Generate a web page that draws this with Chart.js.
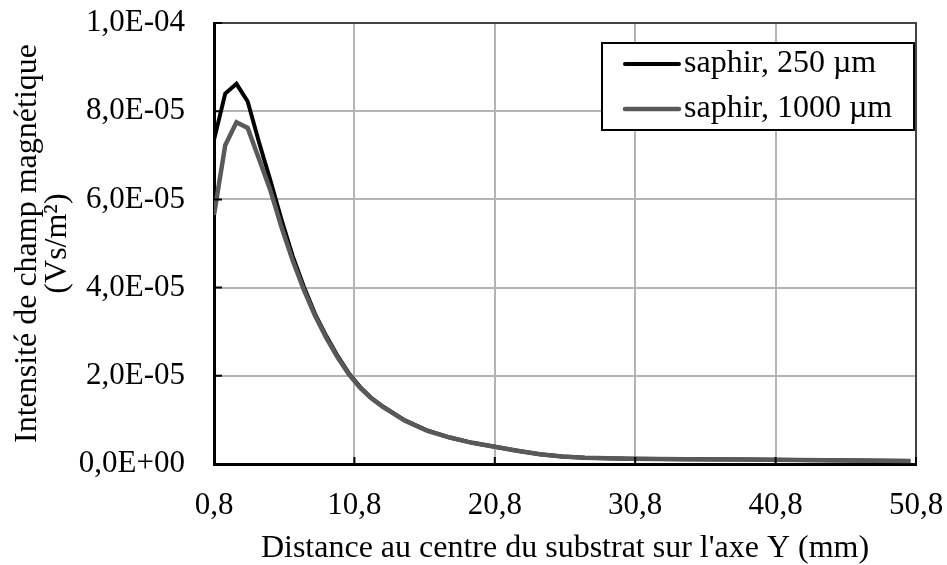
<!DOCTYPE html>
<html>
<head>
<meta charset="utf-8">
<script src="https://cdn.jsdelivr.net/npm/chart.js@4.4.1/dist/chart.umd.min.js"></script>
<style>
  html, body { margin: 0; padding: 0; background: #fff; }
  #wrap { width: 947px; height: 565px; }
</style>
</head>
<body>
<div id="wrap"><canvas id="fieldChart" width="947" height="565"></canvas></div>
<script>
// distance (mm)
const distances = [0.8, 1.6, 2.4, 3.2, 4.0, 4.8, 5.6, 6.4, 7.2, 8.0, 8.8, 9.6, 10.4, 11.2, 12.0, 12.8,
    14.4, 16.0, 17.6, 19.2, 20.8, 22.4, 24.0, 25.6, 27.2, 30.4, 34.4, 38.4, 42.4, 46.4, 50.4];
// field intensity, in units of 1E-05 Vs/m2
const saphir250 = [7.35, 8.40, 8.62, 8.22, 7.30, 6.45, 5.55, 4.72, 4.02, 3.40, 2.90, 2.45, 2.06, 1.75, 1.50, 1.31,
    0.99, 0.76, 0.60, 0.48, 0.39, 0.30, 0.22, 0.17, 0.14, 0.12, 0.11, 0.10, 0.09, 0.08, 0.07];
const saphir1000 = [5.65, 7.23, 7.75, 7.62, 6.92, 6.22, 5.38, 4.62, 3.95, 3.36, 2.86, 2.42, 2.04, 1.73, 1.49, 1.30,
    0.98, 0.75, 0.60, 0.48, 0.39, 0.30, 0.22, 0.17, 0.14, 0.12, 0.11, 0.10, 0.09, 0.08, 0.07];
const seriesLabels = ['saphir, 250 \u00b5m', 'saphir, 1000 \u00b5m'];
const xTicks = [0.8, 10.8, 20.8, 30.8, 40.8, 50.8];
const xTickLabels = ['0,8', '10,8', '20,8', '30,8', '40,8', '50,8'];
const yTickLabels = ['0,0E+00', '2,0E-05', '4,0E-05', '6,0E-05', '8,0E-05', '1,0E-04'];

const FONT = "'Liberation Serif', 'Times New Roman', serif";

function points(ys) {
    return distances.map((x, i) => ({ x: x, y: ys[i] }));
}

// frame, inner tick marks and the boxed legend
const framePlugin = {
    id: 'frame',
    afterDraw(chart) {
        const ctx = chart.ctx;
        const a = chart.chartArea;
        const xs = chart.scales.x, ys = chart.scales.y;
        ctx.save();
        ctx.strokeStyle = '#444';
        ctx.lineWidth = 2;
        ctx.beginPath();
        ctx.moveTo(a.left, a.top);
        ctx.lineTo(a.right, a.top);
        ctx.lineTo(a.right, a.bottom);
        ctx.stroke();

        ctx.strokeStyle = '#000';
        ctx.lineWidth = 2;
        ctx.beginPath();
        xTicks.forEach(v => {
            const px = xs.getPixelForValue(v);
            ctx.moveTo(px, a.bottom);
            ctx.lineTo(px, a.bottom - 7);
        });
        for (let i = 0; i < yTickLabels.length; i++) {
            const py = ys.getPixelForValue(i * 2);
            ctx.moveTo(a.left, py);
            ctx.lineTo(a.left + 8, py);
        }
        ctx.stroke();

        // legend
        const box = { l: 602, t: 43, r: a.right - 2, b: 130 };
        ctx.fillStyle = '#fff';
        ctx.fillRect(box.l, box.t, box.r - box.l, box.b - box.t);
        ctx.strokeStyle = '#000';
        ctx.lineWidth = 2;
        ctx.strokeRect(box.l, box.t, box.r - box.l, box.b - box.t);
        const rows = [64, 109];
        chart.data.datasets.forEach((ds, i) => {
            ctx.strokeStyle = ds.borderColor;
            ctx.lineWidth = ds.borderWidth;
            ctx.lineCap = 'round';
            ctx.beginPath();
            ctx.moveTo(625, rows[i]);
            ctx.lineTo(679, rows[i]);
            ctx.stroke();
            ctx.fillStyle = '#000';
            ctx.font = '32px ' + FONT;
            ctx.textBaseline = 'middle';
            ctx.textAlign = 'left';
            ctx.fillText(ds.label, 684, rows[i]);
        });
        ctx.restore();
    }
};

new Chart(document.getElementById('fieldChart'), {
    type: 'line',
    data: {
        datasets: [
            {
                label: seriesLabels[0],
                data: points(saphir250),
                borderColor: '#000000',
                borderWidth: 4,
                pointRadius: 0,
                tension: 0,
                fill: false,
                order: 1
            },
            {
                label: seriesLabels[1],
                data: points(saphir1000),
                borderColor: '#595959',
                borderWidth: 4.5,
                pointRadius: 0,
                tension: 0,
                fill: false,
                order: 0
            }
        ]
    },
    options: {
        responsive: false,
        animation: false,
        layout: { padding: 0 },
        plugins: { legend: { display: false }, tooltip: { enabled: false } },
        scales: {
            x: {
                type: 'linear',
                min: 0.8,
                max: 50.8,
                afterBuildTicks: (scale) => { scale.ticks = xTicks.map(v => ({ value: v })); },
                afterFit: (scale) => {
                    scale.height = 101;
                    scale.paddingLeft = 0;
                    scale.paddingRight = 31;
                },
                grid: { color: '#b4b4b4', lineWidth: 2, drawTicks: false },
                border: { color: '#000', width: 3 },
                ticks: {
                    color: '#000',
                    padding: 23,
                    maxRotation: 0,
                    font: { family: FONT, size: 31 },
                    callback: (v, i) => xTickLabels[i]
                },
                title: {
                    display: true,
                    text: "Distance au centre du substrat sur l'axe Y (mm)",
                    color: '#000',
                    font: { family: FONT, size: 32, lineHeight: 1 },
                    padding: { top: 0, bottom: 0 }
                }
            },
            y: {
                min: 0,
                max: 10,
                ticks: {
                    stepSize: 2,
                    color: '#000',
                    padding: 29,
                    font: { family: FONT, size: 31 },
                    callback: (v, i) => yTickLabels[i]
                },
                afterFit: (scale) => {
                    scale.width = 214;
                    scale.paddingTop = 23;
                    scale.paddingBottom = 0;
                },
                grid: { color: '#b4b4b4', lineWidth: 2, drawTicks: false },
                border: { color: '#000', width: 3 },
                title: {
                    display: true,
                    text: ['Intensit\u00e9 de champ magn\u00e9tique', '(Vs/m\u00b2)'],
                    color: '#000',
                    font: { family: FONT, size: 32, lineHeight: 0.95 },
                    padding: { top: 12, bottom: 0 }
                }
            }
        }
    },
    plugins: [framePlugin]
});
</script>
</body>
</html>
